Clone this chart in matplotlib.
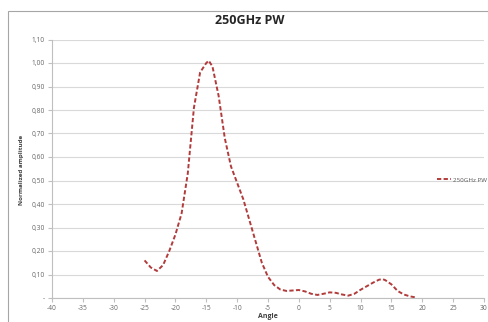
import numpy as np
import matplotlib
matplotlib.use("Agg")
import matplotlib.pyplot as plt
from matplotlib.patches import Rectangle
from matplotlib.ticker import FuncFormatter

plt.rcParams['font.family'] = ['Open Sans', 'DejaVu Sans']

# angle (deg) and normalized amplitude
angle = [-25, -24, -23, -22, -21, -20, -19, -18, -17, -16, -15, -14.6, -14,
         -13, -12, -11, -10, -9, -8, -7, -6, -5, -4, -3, -2, -1, 0, 1, 2, 3,
         4, 5, 6, 7, 8, 9, 10, 11, 12, 13, 13.6, 14, 15, 16, 17, 18, 19]
amplitude = [0.16, 0.13, 0.115, 0.14, 0.20, 0.27, 0.36, 0.53, 0.81, 0.96,
             1.00, 1.01, 0.985, 0.86, 0.68, 0.56, 0.49, 0.42, 0.33, 0.24,
             0.15, 0.09, 0.055, 0.036, 0.03, 0.032, 0.034, 0.028, 0.018,
             0.013, 0.018, 0.024, 0.022, 0.015, 0.01, 0.018, 0.035, 0.05,
             0.065, 0.078, 0.08, 0.076, 0.058, 0.03, 0.015, 0.007, 0.002]
series_name = "250GHz PW"

fig = plt.figure(figsize=(4.88, 3.22), dpi=100)
ax = fig.add_axes([52 / 488, 1 - 298 / 322, (484 - 52) / 488, (298 - 39.5) / 322])

line, = ax.plot(angle, amplitude, color="#b23b3b", lw=1.4,
                dashes=(2.2, 1.2), label=series_name)

ax.set_xlim(-40, 30)
ax.set_ylim(0, 1.1)
ax.set_xticks(np.arange(-40, 31, 5))
ax.set_yticks(np.arange(0, 1.101, 0.1))
ax.yaxis.set_major_formatter(FuncFormatter(
    lambda v, p: "-" if abs(v) < 1e-9 else f"{v:.2f}".replace(".", ",")))
ax.xaxis.set_major_formatter(FuncFormatter(lambda v, p: f"{v:.0f}"))

ax.grid(axis="y", color="#d9d9d9", lw=0.8)
ax.set_axisbelow(True)
for s in ["top", "right"]:
    ax.spines[s].set_visible(False)
for s in ["left", "bottom"]:
    ax.spines[s].set_color("#bfbfbf")
    ax.spines[s].set_linewidth(0.8)
ax.tick_params(colors="#bfbfbf", labelcolor="#666666", labelsize=4.8,
               length=3, width=0.8, pad=2)

ax.set_xlabel("Angle", fontsize=5, fontweight="bold", color="#404040", labelpad=1)
fig.text(22 / 488, 1 - 170 / 322, "Normalized amplitude", rotation=90,
         fontsize=4.5, fontweight="bold", color="#404040", ha="center", va="center")
fig.text(250 / 488, 1 - 20 / 322, series_name, fontsize=9, fontweight="bold",
         color="#262626", ha="center", va="center")

fig.legend(handles=[line], loc="center left", frameon=False, fontsize=4.5,
           bbox_to_anchor=(437 / 488, 1 - 180 / 322), handlelength=2.2,
           handletextpad=0.3, labelcolor="#595959", borderaxespad=0,
           borderpad=0)

fig.patches.append(Rectangle((8 / 488, -0.05), 1.1, 1 - 11 / 322 + 0.05,
                             transform=fig.transFigure, fill=False,
                             edgecolor="#a6a6a6", lw=0.8))

fig.savefig("out.png", dpi=100)
